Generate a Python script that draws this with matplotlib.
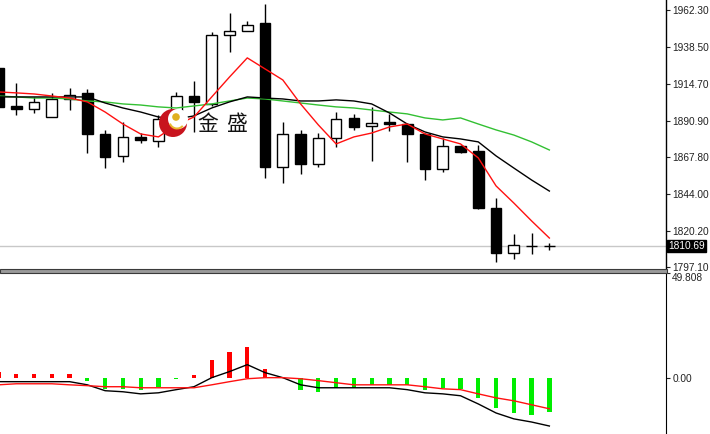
import matplotlib
matplotlib.use('Agg')
import matplotlib.pyplot as plt
import matplotlib.transforms as mtransforms
from matplotlib.patches import Circle, Rectangle, Wedge

plt.rcParams['font.family'] = ['Liberation Sans', 'DejaVu Sans']

# candles
opens = [1925.0, 1900.6, 1898.7, 1893.5, 1905.1, 1909.0, 1882.6, 1868.5, 1880.7, 1878.1, 1892.9,
         1907.0, 1901.9, 1946.2, 1948.8, 1953.9, 1861.4, 1882.6, 1863.3, 1880.0, 1892.9, 1887.7,
         1890.3, 1889.0, 1882.6, 1860.1, 1874.9, 1871.7, 1835.0, 1806.1, 1810.6, 1810.9]
highs = [1927.0, 1915.4, 1906.4, 1909.0, 1912.2, 1911.5, 1885.2, 1890.3, 1883.2, 1894.8, 1909.6,
         1916.7, 1948.2, 1960.4, 1955.2, 1966.2, 1890.3, 1885.2, 1883.2, 1896.7, 1895.5, 1900.0,
         1895.5, 1889.7, 1883.2, 1880.0, 1875.5, 1875.5, 1841.5, 1818.3, 1819.0, 1812.5]
lows = [1898.0, 1894.8, 1896.1, 1893.5, 1898.0, 1870.4, 1860.7, 1864.6, 1876.8, 1874.2, 1891.6,
        1883.9, 1900.6, 1935.3, 1948.8, 1854.3, 1851.1, 1856.9, 1861.4, 1874.2, 1885.2, 1865.2,
        1884.5, 1864.6, 1853.0, 1858.2, 1870.4, 1834.4, 1800.3, 1802.2, 1805.5, 1808.0]
closes = [1899.9, 1898.7, 1903.2, 1905.1, 1907.7, 1882.6, 1867.8, 1880.7, 1878.7, 1892.2, 1907.0,
          1903.2, 1946.2, 1948.8, 1952.7, 1861.4, 1882.6, 1863.3, 1880.0, 1892.2, 1887.1, 1889.7,
          1889.0, 1882.6, 1860.1, 1874.9, 1871.0, 1835.0, 1806.1, 1811.2, 1810.3, 1810.69]

# moving averages
ma_red = [1909.6, 1909.0, 1908.3, 1907.0, 1905.7, 1903.2, 1896.7, 1889.0, 1882.6, 1880.7, 1888.4,
          1893.5, 1906.4, 1919.2, 1931.5, 1924.4, 1917.3, 1901.9, 1888.4, 1876.2, 1880.7, 1883.2,
          1887.1, 1889.0, 1882.6, 1879.4, 1876.2, 1867.2, 1849.2, 1838.2, 1826.7, 1815.7]
ma_black = [1906.4, 1906.4, 1906.4, 1906.4, 1906.4, 1906.4, 1902.5, 1899.3, 1896.7, 1893.5, 1892.2,
            1894.2, 1899.3, 1903.2, 1906.4, 1905.7, 1905.1, 1903.8, 1903.8, 1904.5, 1903.8, 1901.9,
            1896.1, 1889.0, 1883.9, 1880.7, 1879.4, 1877.5, 1868.5, 1860.7, 1853.0, 1845.9]
ma_green = [1907.0, 1906.4, 1905.7, 1905.7, 1905.1, 1903.8, 1903.2, 1901.9, 1901.2, 1900.0, 1899.3,
            1900.6, 1901.9, 1903.8, 1905.7, 1905.1, 1903.8, 1902.5, 1901.2, 1900.0, 1899.3, 1898.0,
            1896.7, 1895.5, 1892.9, 1891.6, 1892.9, 1889.0, 1885.2, 1881.9, 1877.5, 1872.3]

# oscillator panel
hist = [2.9, 1.9, 1.9, 1.9, 1.9, -1.4, -5.3, -5.3, -5.7, -4.3, -0.5, 1.4, 8.6, 12.0, 14.8, 4.3,
        0.0, -5.7, -6.7, -4.8, -4.8, -3.4, -3.4, -3.4, -5.7, -4.8, -5.3, -9.6, -14.4, -16.8, -17.7, -16.3]
macd_line = [-1.9, -1.9, -1.9, -1.9, -1.9, -3.4, -6.2, -6.7, -7.7, -7.2, -5.7, -4.3, 0.0, 2.9, 6.2, 2.4,
             0.0, -3.4, -4.8, -4.8, -4.8, -4.8, -4.8, -5.7, -7.2, -7.7, -8.6, -12.5, -16.8, -19.6, -21.1, -23.0]
signal_line = [-3.4, -2.9, -2.9, -2.9, -3.4, -3.8, -4.3, -4.3, -4.8, -4.8, -4.8, -4.8, -3.4, -1.9, -0.5, 0.0,
               0.0, -0.5, -1.4, -2.4, -3.4, -3.4, -3.4, -3.4, -4.3, -5.3, -5.7, -7.7, -9.6, -11.0, -12.9, -14.8]

price_ticks = [1962.30, 1938.50, 1914.70, 1890.90, 1867.80, 1844.00, 1820.20, 1797.10]
last_price = 1810.69
osc_top = 49.808

W, H = 710, 434
fig = plt.figure(figsize=(W / 100, H / 100), dpi=100)
fig.patch.set_facecolor('white')

plot_w = 666
ax = fig.add_axes([0, 1 - 269 / H, plot_w / W, 269 / H])
ax2 = fig.add_axes([0, 0, plot_w / W, 161 / H])

step = 17.77
x0 = -1.5
xl = ((0 - x0) / step, (plot_w - x0) / step)
xs = list(range(len(opens)))

# candles
for i in xs:
    o, h, l, c = opens[i], highs[i], lows[i], closes[i]
    ax.vlines(i, l, h, color='black', lw=1, zorder=2)
    lo = min(o, c)
    hgt = max(abs(c - o), 0.15)
    face = 'white' if c > o else 'black'
    ax.bar(i, hgt, bottom=lo, width=0.6, color=face, edgecolor='black', lw=1, zorder=3)

ax.plot(xs, ma_green, color='#33c033', lw=1, zorder=4)
ax.plot(xs, ma_black, color='black', lw=1, zorder=4)
ax.plot(xs, ma_red, color='#ff1010', lw=1, zorder=4)
ax.axhline(last_price, color='#c8c8c8', lw=1, zorder=1)

ax.set_xlim(*xl)
ax.set_ylim(1795.8, 1968.7)
ax.set_xticks([])
ax.yaxis.tick_right()
ax.set_yticks(price_ticks)
ax.set_yticklabels(['%.2f' % v for v in price_ticks])
ax.tick_params(axis='y', direction='out', length=3, width=0.8, pad=1.5, labelsize=7.3, colors='#222222')
for s in ['top', 'left', 'bottom']:
    ax.spines[s].set_visible(False)
ax.spines['right'].set_linewidth(1)

tr = mtransforms.blended_transform_factory(ax.transAxes, ax.transData)
ax.text(1 + 2.5 / plot_w, last_price, '%.2f' % last_price, transform=tr, va='center', ha='left',
        fontsize=7.3, color='white', clip_on=False, zorder=10,
        bbox=dict(boxstyle='square,pad=0.12', fc='black', ec='black'))

# oscillator
cols = ['#ff0000' if v > 0 else '#00ee00' for v in hist]
ax2.bar(xs, hist, width=0.24, color=cols, zorder=2)
ax2.plot(xs, macd_line, color='black', lw=1, zorder=3)
ax2.plot(xs, signal_line, color='#ff1010', lw=1, zorder=4)
ax2.set_xlim(*xl)
ax2.set_ylim(-26.8, osc_top)
ax2.set_xticks([])
ax2.yaxis.tick_right()
ax2.set_yticks([0.0, osc_top])
ax2.set_yticklabels(['0.00', '%.3f' % osc_top])
ax2.get_yticklabels()[1].set_va('top')
ax2.tick_params(axis='y', direction='out', length=3, width=0.8, pad=1.5, labelsize=7.3, colors='#222222')
for s in ['top', 'left', 'bottom']:
    ax2.spines[s].set_visible(False)

# panel separator
fig.add_artist(Rectangle((0, 1 - 272.5 / H), 667 / W, 3.5 / H, transform=fig.transFigure,
                         fc='#9a9a9a', ec='#3a3a3a', lw=0.8))

# watermark logo
cx, cy = 173, H - 123
fig.add_artist(Circle((cx, cy), 14, transform=None, fc='#c8141e', ec='none', zorder=20))
fig.add_artist(Circle((cx + 5, cy + 4), 10, transform=None, fc='white', ec='none', zorder=21))
fig.add_artist(Wedge((cx + 4, cy + 2), 8.5, 200, 320, width=2, transform=None, fc='#e8b830', ec='none', zorder=22))
fig.add_artist(Circle((cx + 3, cy + 6), 3.8, transform=None, fc='#e0b020', ec='none', zorder=22))
fig.text(197 / W, 1 - 124 / H, '金', fontsize=15, va='center', ha='left',
         family=['Noto Sans CJK SC', 'DejaVu Sans'], color='#111111', zorder=23)
fig.text(226 / W, 1 - 124 / H, '盛', fontsize=15, va='center', ha='left',
         family=['Noto Sans CJK SC', 'DejaVu Sans'], color='#111111', zorder=23)

fig.savefig('out.png', dpi=100)
